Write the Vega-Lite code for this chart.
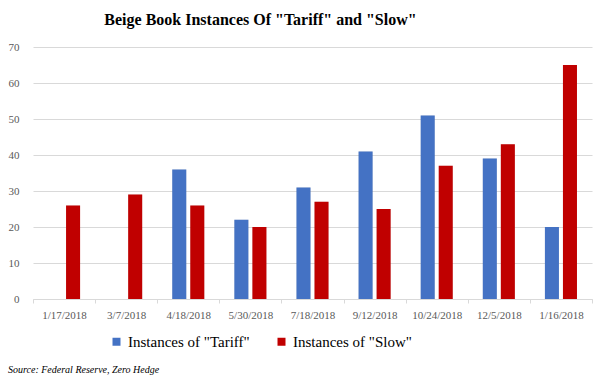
{
  "$schema": "https://vega.github.io/schema/vega-lite/v6.json",
  "padding": {"left": 8, "top": 12, "right": 10, "bottom": 4},
  "background": "#ffffff",
  "title": {"text": "Source: Federal Reserve, Zero Hedge", "orient": "bottom", "anchor": "start", "font": "Liberation Serif, Times New Roman, serif", "fontStyle": "italic", "fontWeight": "normal", "fontSize": 10, "color": "#000000", "offset": 15},
  "data": {"values": [
    {"date": "1/17/2018", "series": "Instances of \"Slow\"", "count": 26},
    {"date": "3/7/2018", "series": "Instances of \"Slow\"", "count": 29},
    {"date": "4/18/2018", "series": "Instances of \"Tariff\"", "count": 36},
    {"date": "4/18/2018", "series": "Instances of \"Slow\"", "count": 26},
    {"date": "5/30/2018", "series": "Instances of \"Tariff\"", "count": 22},
    {"date": "5/30/2018", "series": "Instances of \"Slow\"", "count": 20},
    {"date": "7/18/2018", "series": "Instances of \"Tariff\"", "count": 31},
    {"date": "7/18/2018", "series": "Instances of \"Slow\"", "count": 27},
    {"date": "9/12/2018", "series": "Instances of \"Tariff\"", "count": 41},
    {"date": "9/12/2018", "series": "Instances of \"Slow\"", "count": 25},
    {"date": "10/24/2018", "series": "Instances of \"Tariff\"", "count": 51},
    {"date": "10/24/2018", "series": "Instances of \"Slow\"", "count": 37},
    {"date": "12/5/2018", "series": "Instances of \"Tariff\"", "count": 39},
    {"date": "12/5/2018", "series": "Instances of \"Slow\"", "count": 43},
    {"date": "1/16/2018", "series": "Instances of \"Tariff\"", "count": 20},
    {"date": "1/16/2018", "series": "Instances of \"Slow\"", "count": 65}
  ]},
  "resolve": {"legend": {"color": "independent"}},
  "vconcat": [{
    "width": 559,
    "height": 252,
    "title": {"text": "Beige Book Instances Of \"Tariff\" and \"Slow\"", "font": "Liberation Serif, Times New Roman, serif", "fontSize": 16, "fontWeight": "bold", "color": "#000000", "anchor": "middle", "dx": -52, "offset": 13},
    "encoding": {
      "x": {"field": "date", "type": "nominal",
        "sort": ["1/17/2018", "3/7/2018", "4/18/2018", "5/30/2018", "7/18/2018", "9/12/2018", "10/24/2018", "12/5/2018", "1/16/2018"],
        "scale": {"paddingInner": 0, "paddingOuter": 0},
        "axis": {"title": null, "labelAngle": 0, "tickBand": "extent", "domainColor": "#d9d9d9", "tickColor": "#d9d9d9", "tickSize": 4, "labelFont": "Liberation Serif, Times New Roman, serif", "labelFontSize": 11, "labelColor": "#595959", "labelPadding": 6, "grid": false}},
      "xOffset": {"field": "series", "type": "nominal", "sort": ["Instances of \"Tariff\"", "Instances of \"Slow\""], "scale": {"paddingInner": 0.222, "paddingOuter": 0.833}},
      "y": {"field": "count", "type": "quantitative",
        "scale": {"domain": [0, 70]},
        "axis": {"title": null, "values": [0, 10, 20, 30, 40, 50, 60, 70], "domain": false, "ticks": false, "gridColor": "#d9d9d9", "labelFont": "Liberation Serif, Times New Roman, serif", "labelFontSize": 11, "labelColor": "#595959", "labelPadding": 14}}
    },
    "layer": [
      {"mark": {"type": "bar", "color": "#000000", "opacity": 0.12, "xOffset": 2, "yOffset": 0}},
      {"mark": {"type": "bar"},
       "encoding": {
        "color": {"field": "series", "type": "nominal",
          "scale": {"domain": ["Instances of \"Tariff\"", "Instances of \"Slow\""], "range": ["#4472C4", "#C00000"]},
          "legend": {"title": null, "orient": "none", "legendX": 76, "legendY": 287, "direction": "horizontal", "symbolType": "square", "symbolSize": 64, "symbolStrokeWidth": 0, "labelFont": "Liberation Serif, Times New Roman, serif", "labelFontSize": 15, "labelColor": "#000000", "columnPadding": 24}}
       }}
    ]
  }],
  "config": {"view": {"stroke": null}, "font": "Liberation Serif, Times New Roman, serif", "legend": {"labelFont": "Liberation Serif, Times New Roman, serif"}}
}
